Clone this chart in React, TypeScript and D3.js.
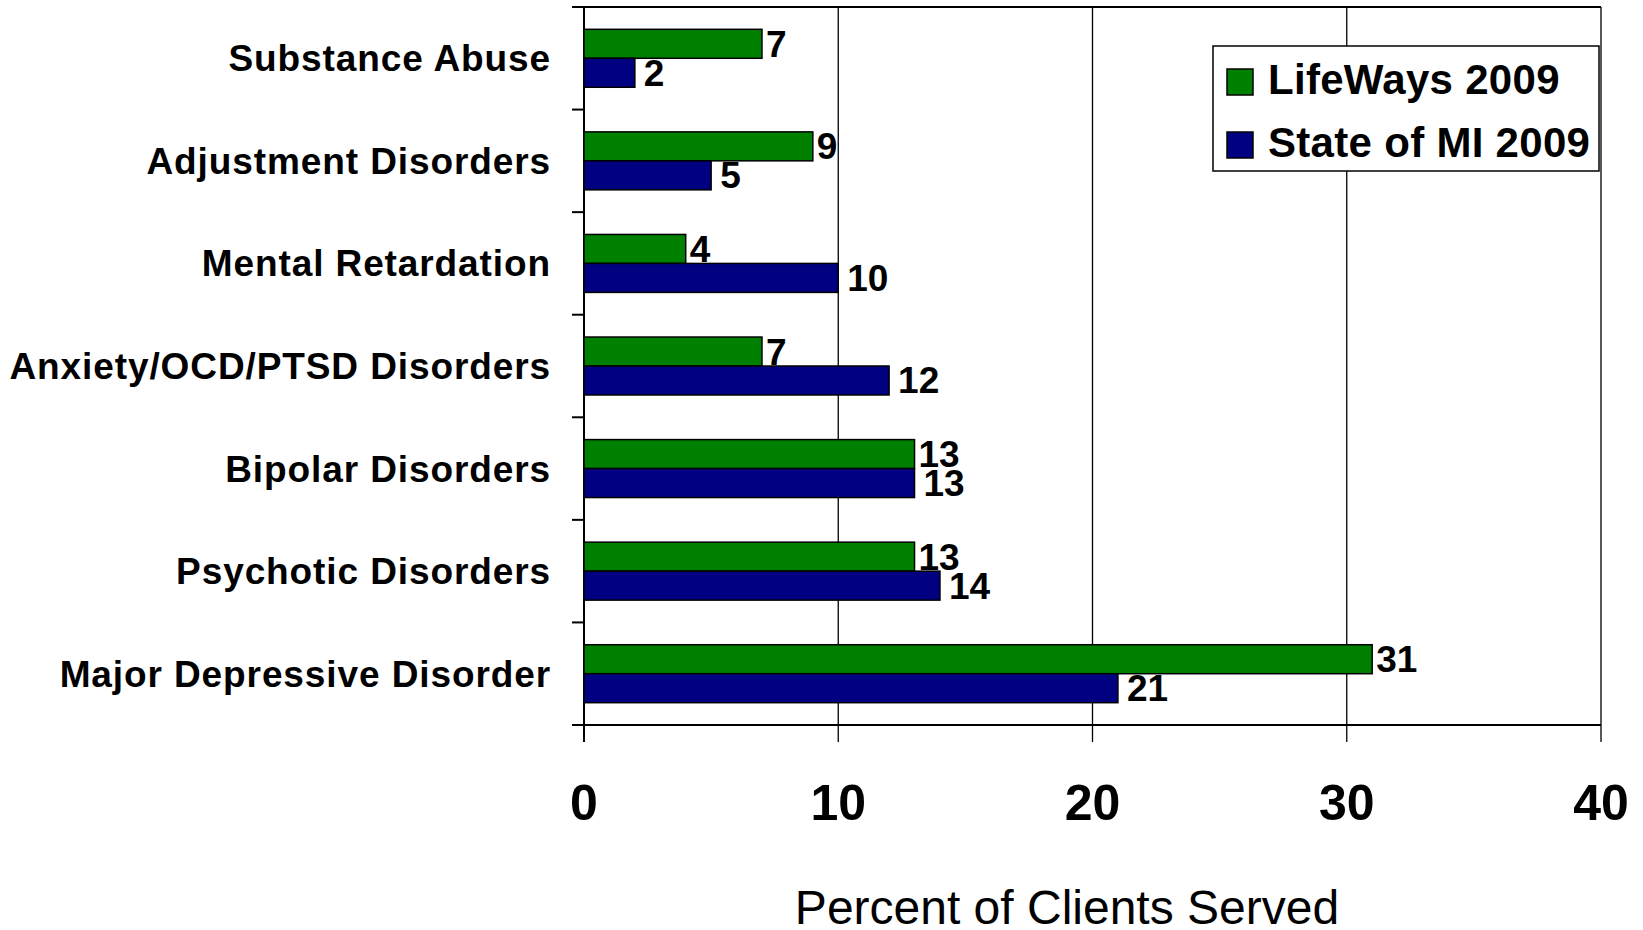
import * as d3 from 'd3';

const categories = [
  'Substance Abuse',
  'Adjustment Disorders',
  'Mental Retardation',
  'Anxiety/OCD/PTSD Disorders',
  'Bipolar Disorders',
  'Psychotic Disorders',
  'Major Depressive Disorder',
];
const seriesNames = ['LifeWays 2009', 'State of MI 2009'];
const lifeWays = [7, 9, 4, 7, 13, 13, 31];
const stateMI = [2, 5, 10, 12, 13, 14, 21];
const xTicks = [0, 10, 20, 30, 40];
const colors = ['#008000', '#000080'];

const W = 1643;
const H = 930;
const FONT = '"Liberation Sans", Arial, Helvetica, sans-serif';

export default function App() {
  const left = 584;
  const right = 1601;
  const top = 7;
  const bottom = 725;

  const x = d3.scaleLinear().domain([0, 40]).range([left, right]);
  const y = d3
    .scaleBand<string>()
    .domain(categories)
    .range([top, bottom])
    .paddingInner(0.435)
    .paddingOuter(0.2175);
  const inner = d3.scaleBand<string>().domain(seriesNames).range([0, y.bandwidth()]);
  const step = y.step();

  const values = [lifeWays, stateMI];

  return (
    <div style={{ position: 'fixed', left: 0, top: 0, width: W, height: H, background: '#fff' }}>
      <svg width={W} height={H} style={{ display: 'block' }} fontFamily={FONT}>
        <rect x={0} y={0} width={W} height={H} fill="#fff" />

        {/* gridlines + ticks below axis */}
        {xTicks.map((t) => (
          <line
            key={'g' + t}
            x1={x(t)}
            x2={x(t)}
            y1={top}
            y2={bottom + 17}
            stroke="#000"
            strokeWidth={t === 0 ? 2 : 1.3}
          />
        ))}

        {/* top border */}
        <line x1={572} x2={right} y1={top} y2={top} stroke="#000" strokeWidth={2} />
        {/* bottom axis */}
        <line x1={572} x2={right} y1={bottom} y2={bottom} stroke="#000" strokeWidth={2} />

        {/* category ticks */}
        {d3.range(categories.length + 1).map((i) => (
          <line
            key={'t' + i}
            x1={572}
            x2={left}
            y1={top + i * step}
            y2={top + i * step}
            stroke="#000"
            strokeWidth={2}
          />
        ))}

        {/* bars */}
        {categories.map((c, i) =>
          seriesNames.map((s, j) => {
            const v = values[j][i];
            const by = (y(c) as number) + (inner(s) as number);
            return (
              <g key={c + s}>
                <rect
                  x={x(0)}
                  y={by}
                  width={x(v) - x(0)}
                  height={inner.bandwidth()}
                  fill={colors[j]}
                  stroke="#000"
                  strokeWidth={1.5}
                />
                <text
                  x={x(v) + (j === 0 ? 4 : 9)}
                  y={by + inner.bandwidth() / 2 + 13}
                  fontSize={37}
                  fontWeight="bold"
                  fill="#000"
                >
                  {v}
                </text>
              </g>
            );
          })
        )}

        {/* category labels */}
        {categories.map((c) => (
          <text
            key={'l' + c}
            x={551}
            y={(y(c) as number) + y.bandwidth() / 2 + 13}
            textAnchor="end"
            fontSize={37}
            fontWeight="bold"
            letterSpacing={0.9}
            fill="#000"
          >
            {c}
          </text>
        ))}

        {/* x tick labels */}
        {xTicks.map((t) => (
          <text
            key={'x' + t}
            x={x(t)}
            y={820}
            textAnchor="middle"
            fontSize={50}
            fontWeight="bold"
            fill="#000"
          >
            {t}
          </text>
        ))}

        {/* axis title */}
        <text x={1067} y={924} textAnchor="middle" fontSize={48} fill="#000">
          Percent of Clients Served
        </text>

        {/* legend */}
        <rect x={1213} y={46} width={386} height={125} fill="#fff" stroke="#000" strokeWidth={1.5} />
        {seriesNames.map((s, j) => (
          <g key={'lg' + s}>
            <rect
              x={1227}
              y={69 + j * 63}
              width={26}
              height={26}
              fill={colors[j]}
              stroke="#000"
              strokeWidth={1.5}
            />
            <text
              x={1268}
              y={94 + j * 63}
              fontSize={42}
              fontWeight="bold"
              letterSpacing={0.3}
              fill="#000"
            >
              {s}
            </text>
          </g>
        ))}
      </svg>
    </div>
  );
}
